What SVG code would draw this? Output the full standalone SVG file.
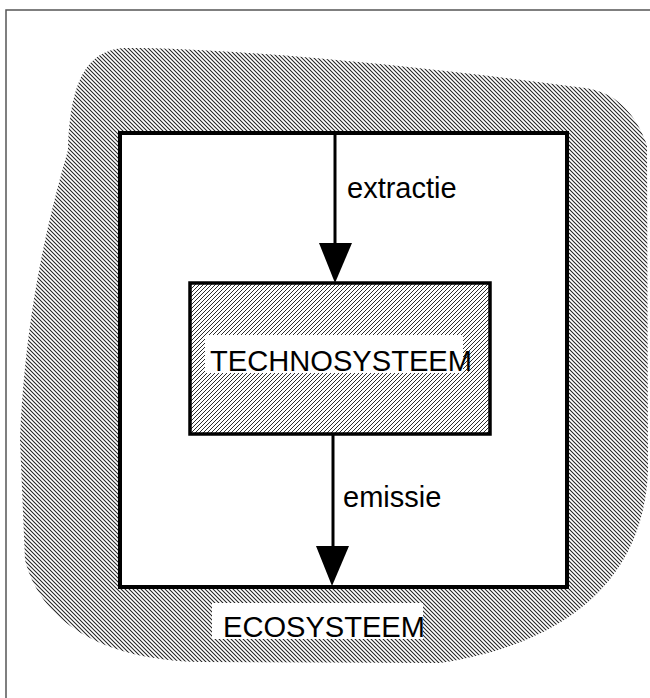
<svg xmlns="http://www.w3.org/2000/svg" width="650" height="698" viewBox="0 0 650 698">
  <style>
    .lbl { font-family: "Liberation Sans", Arial, sans-serif; font-size: 29px; fill: #000; }
    .box { stroke: #000; }
    .flow { stroke: #000; stroke-width: 3; fill: none; }
    .head { fill: #000; }
    .frame { stroke: #555; stroke-width: 1.5; fill: none; }
  </style>
  <defs>
    <!-- back-slash hatching for the surrounding environment -->
    <pattern id="hatchEco" patternUnits="userSpaceOnUse" width="4" height="4">
      <path d="M0,0 L4,4 M-1,3 L1,5 M3,-1 L5,1" stroke="#222" stroke-width="1.05"/>
    </pattern>
    <!-- forward-slash hatching for the technical system -->
    <pattern id="hatchTech" patternUnits="userSpaceOnUse" width="4" height="4">
      <path d="M0,4 L4,0 M-1,1 L1,-1 M3,5 L5,3" stroke="#222" stroke-width="0.95"/>
    </pattern>
  </defs>

  <rect width="650" height="698" fill="#fff"/>

  <!-- page frame -->
  <path class="frame" d="M6,698 L6,10 L650,10"/>

  <g id="ecosysteem">
    <path d="M125,48 C250,48 450,70 585,88 C615,92 635,112 647,145 L648,470 C645,560 590,640 440,663 L200,662 C100,660 40,620 25,560 L20,440 C25,320 45,230 68,150 C70,90 82,50 125,48 Z" fill="url(#hatchEco)"/>
    <rect class="box" x="120" y="133" width="447" height="454" fill="#fff" stroke-width="4"/>
    <rect x="212" y="603" width="211" height="36" fill="#fff"/>
    <text class="lbl" x="223" y="637" textLength="202" lengthAdjust="spacingAndGlyphs">ECOSYSTEEM</text>
  </g>

  <g id="technosysteem">
    <rect class="box" x="190" y="283" width="300" height="151" fill="url(#hatchTech)" stroke-width="3.5"/>
    <rect x="205" y="335" width="258" height="38" fill="#fff"/>
    <text class="lbl" x="210" y="371" textLength="262" lengthAdjust="spacingAndGlyphs">TECHNOSYSTEEM</text>
  </g>

  <g id="connectors">
    <line class="flow" x1="335" y1="133" x2="335" y2="246"/>
    <polygon class="head" points="319,243 352,243 335,283"/>
    <text class="lbl" x="347" y="198">extractie</text>

    <line class="flow" x1="333" y1="435" x2="333" y2="549"/>
    <polygon class="head" points="316,546 349,546 332,586"/>
    <text class="lbl" x="343" y="507">emissie</text>
  </g>
</svg>
